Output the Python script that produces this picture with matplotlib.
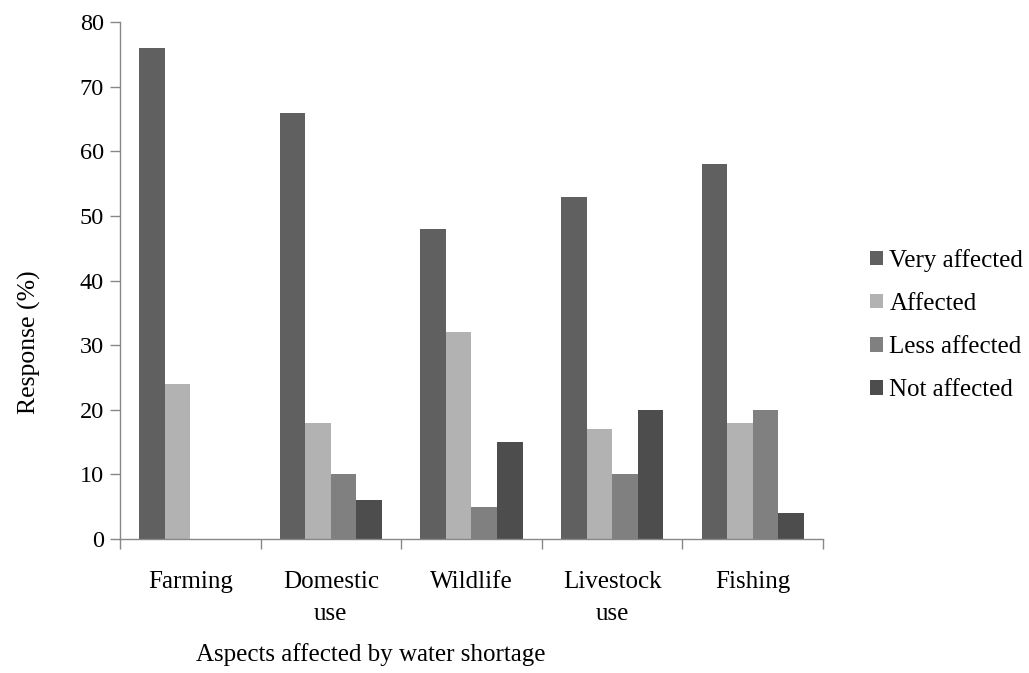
import numpy as np
import matplotlib.pyplot as plt
from matplotlib.patches import Patch

plt.rcParams['font.family'] = ['Liberation Serif', 'DejaVu Serif']

categories = ["Farming", "Domestic\nuse", "Wildlife", "Livestock\nuse", "Fishing"]
series = ["Very affected", "Affected", "Less affected", "Not affected"]
very_affected = [76, 66, 48, 53, 58]
affected = [24, 18, 32, 17, 18]
less_affected = [0, 10, 5, 10, 20]
not_affected = [0, 6, 15, 20, 4]
colors = ["#606060", "#b2b2b2", "#808080", "#4d4d4d"]

values = [very_affected, affected, less_affected, not_affected]

fig = plt.figure(figsize=(10.29, 6.73), dpi=100)
ax = fig.add_axes([0.1166, 0.199, 0.6832, 0.768])

# excel-style layout: gap width 150% -> bar width = 1/5.5 of category
w = 1 / 5.5
x = np.arange(len(categories))
for i, (vals, c) in enumerate(zip(values, colors)):
    ax.bar(x - 2 * w + (i + 0.5) * w, vals, width=w, color=c, edgecolor='none')

ax.set_xlim(-0.5, len(categories) - 0.5)
ax.set_ylim(0, 80)
ax.set_yticks(range(0, 81, 10))
ax.tick_params(axis='y', labelsize=17.5, length=7.5, width=1, color='#888888', pad=4)

# ticks at category boundaries, labels at centers
ax.set_xticks(np.arange(-0.5, len(categories), 1))
ax.set_xticklabels([])
ax.set_xticks(x, minor=True)
ax.set_xticklabels(categories, minor=True, fontsize=18, linespacing=1.6)
ax.tick_params(axis='x', which='major', length=7.5, width=1, color='#888888')
ax.tick_params(axis='x', which='minor', length=0, pad=23)

for s in ['top', 'right']:
    ax.spines[s].set_visible(False)
for s in ['left', 'bottom']:
    ax.spines[s].set_color('#888888')
    ax.spines[s].set_linewidth(1)

ax.set_ylabel("Response (%)", fontsize=18.5)
ax.yaxis.set_label_coords(-0.113, 0.381)
fig.text(0.36, 0.018, "Aspects affected by water shortage", fontsize=18,
         ha='center', va='baseline')

handles = [Patch(facecolor=c, edgecolor='none', label=s) for s, c in zip(series, colors)]
fig.legend(handles=handles, loc='center left', bbox_to_anchor=(0.836, 0.517),
           frameon=False, fontsize=18, handlelength=0.52, handleheight=0.52,
           handletextpad=0.25, labelspacing=0.85, borderaxespad=0)

fig.savefig("out.png", dpi=100)
